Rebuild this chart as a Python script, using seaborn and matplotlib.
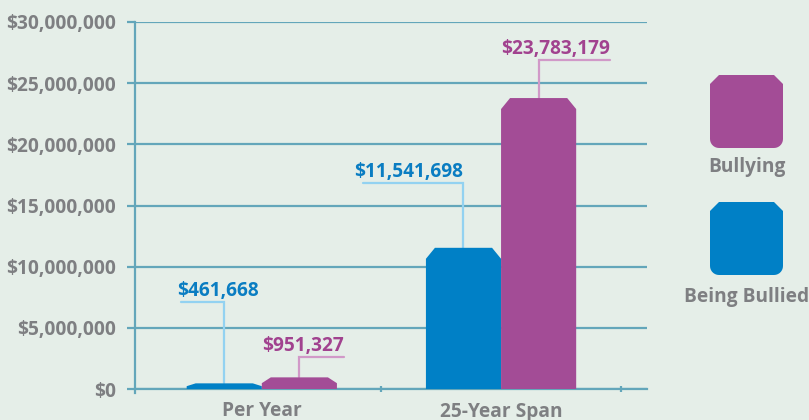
import numpy as np
import pandas as pd
import matplotlib
matplotlib.use("Agg")
import matplotlib.pyplot as plt
import seaborn as sns
from matplotlib.patches import Polygon

# ---------------- data ----------------
periods = ["Per Year", "25-Year Span"]
series = ["Being Bullied", "Bullying"]
being_bullied = [461668, 11541698]
bullying = [951327, 23783179]
y_ticks = [0, 5000000, 10000000, 15000000, 20000000, 25000000, 30000000]
y_tick_labels = ["$0", "$5,000,000", "$10,000,000", "$15,000,000",
                 "$20,000,000", "$25,000,000", "$30,000,000"]
legend_order = ["Bullying", "Being Bullied"]

df = pd.DataFrame({
    "period": periods * 2,
    "group": [series[0]] * 2 + [series[1]] * 2,
    "cost": being_bullied + bullying,
})

# ---------------- style ----------------
BG = "#E5EEE8"
GRID = "#63A6BA"
BLUE = "#0080C6"
PURPLE = "#A34C96"
LBLUE = "#93D2F1"
LPURPLE = "#D199C8"
TBLUE = "#0A7DC2"
TPURPLE = "#A1428F"
GREY = "#7E7F82"
FS = 13.8

sns.set_theme(style="white")
plt.rcParams["font.family"] = ["Open Sans", "DejaVu Sans"]
plt.rcParams["font.weight"] = "bold"

W, H = 809, 420
fig = plt.figure(figsize=(W / 100, H / 100), dpi=100, facecolor=BG)
L, R, T, B = 135, 647, 22, 389
ax = fig.add_axes([L / W, 1 - B / H, (R - L) / W, (B - T) / H])
ax.set_facecolor(BG)

sns.barplot(data=df, x="period", y="cost", hue="group", order=periods,
            hue_order=series, palette=[BLUE, PURPLE], width=0.628,
            saturation=1, errorbar=None, legend=False, ax=ax)

XMIN, XMAX = -0.53, 1.61
ax.set_xlim(XMIN, XMAX)
ax.set_ylim(0, 30000000)
px_x = (XMAX - XMIN) / (R - L)
px_y = 30000000 / (B - T)

# axes styling
for s in ["top", "right"]:
    ax.spines[s].set_visible(False)
ax.spines["left"].set_color(GRID)
ax.spines["left"].set_linewidth(1.6)
ax.spines["left"].set_bounds(-4 * px_y, 30000000)
ax.spines["bottom"].set_color(GRID)
ax.spines["bottom"].set_linewidth(1.6)
ax.set_yticks(y_ticks)
ax.set_yticklabels(y_tick_labels)
ax.yaxis.grid(True, color=GRID, lw=1.6)
ax.set_axisbelow(True)
ax.tick_params(axis="y", length=5.5, width=1.6, color=GRID, pad=8,
               labelsize=FS, labelcolor=GREY, left=True)
ax.set_xticks([0, 1])
ax.set_xticklabels(periods)
ax.set_xticks([0.5, 1.5], minor=True)
ax.tick_params(axis="x", which="major", length=0, pad=9, labelsize=FS,
               labelcolor=GREY)
ax.tick_params(axis="x", which="minor", length=5, width=1.6, color=GRID,
               direction="inout", bottom=True)
for lab in ax.get_xticklabels() + ax.get_yticklabels():
    lab.set_fontweight("bold")
ax.set_xlabel("")
ax.set_ylabel("")

# chamfered bars
for cont, col in zip(ax.containers, [BLUE, PURPLE]):
    for p in cont:
        x0, w, h = p.get_x(), p.get_width(), p.get_height()
        p.set_visible(False)
        cx = 9 * px_x
        cy = min(11 * px_y, 0.5 * h)
        pts = [(x0, 0), (x0, h - cy), (x0 + cx, h), (x0 + w - cx, h),
               (x0 + w, h - cy), (x0 + w, 0)]
        ax.add_patch(Polygon(pts, closed=True, facecolor=col,
                             edgecolor="none", zorder=3))

# value annotations (leader lines)
leader_top = [[7100000, 16800000], [2600000, 26900000]]  # per series, period
leader_dx = [[-43, -100], [45, 71]]  # pixels
text_shift = [[35, 0], [0, 0]]
line_cols = [LBLUE, LPURPLE]
text_cols = [TBLUE, TPURPLE]
vals = [being_bullied, bullying]
for si, cont in enumerate(ax.containers):
    for pi, p in enumerate(cont):
        xc = p.get_x() + p.get_width() / 2
        h = p.get_height()
        yt = leader_top[si][pi]
        xe = xc + leader_dx[si][pi] * px_x
        ax.plot([xc, xc, xe], [h, yt, yt], color=line_cols[si], lw=1.6,
                zorder=2, solid_joinstyle="miter", clip_on=False)
        xr = max(xc, xe) + text_shift[si][pi] * px_x
        ax.text(xr, yt + 6 * px_y, f"${vals[si][pi]:,.0f}", ha="right",
                va="baseline", color=text_cols[si], fontsize=FS,
                fontweight="bold", zorder=4)

# legend (drawn in pixel space overlay)
ov = fig.add_axes([0, 0, 1, 1])
ov.set_xlim(0, W)
ov.set_ylim(H, 0)
ov.axis("off")
ov.patch.set_alpha(0)


def legend_shape(x0, y0, w, h, c=9, r=9):
    verts = [(x0, y0 + c), (x0 + c, y0), (x0 + w - c, y0), (x0 + w, y0 + c),
             (x0 + w, y0 + h - r)]
    for a in np.linspace(0, np.pi / 2, 8)[1:]:
        verts.append((x0 + w - r + r * np.cos(a), y0 + h - r + r * np.sin(a)))
    verts.append((x0 + r, y0 + h))
    for a in np.linspace(np.pi / 2, np.pi, 8)[1:]:
        verts.append((x0 + r + r * np.cos(a), y0 + h - r + r * np.sin(a)))
    verts.append((x0, y0 + c))
    return Polygon(verts, closed=True)


leg_cols = {"Bullying": PURPLE, "Being Bullied": BLUE}
leg_y = [75, 202]
leg_text_y = [167, 297]
for name, y0, ty in zip(legend_order, leg_y, leg_text_y):
    shp = legend_shape(710, y0, 73, 73)
    shp.set_facecolor(leg_cols[name])
    shp.set_edgecolor("none")
    ov.add_patch(shp)
    ov.text(746.5, ty, name, ha="center", va="center", color=GREY,
            fontsize=FS, fontweight="bold")

fig.savefig("out.png", dpi=100, facecolor=BG)
